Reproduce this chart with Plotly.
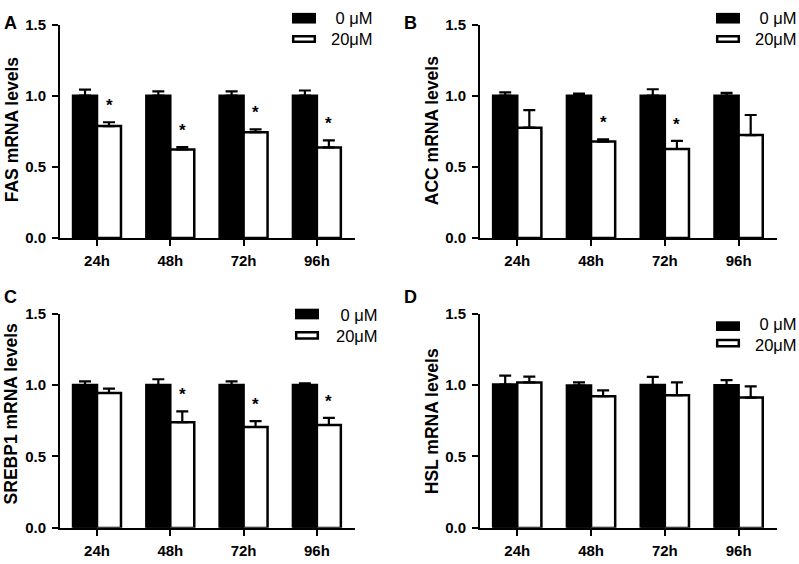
import plotly.graph_objects as go

W, H = 799, 564
FONT = "Liberation Sans, Arial, sans-serif"

categories = ["24h", "48h", "72h", "96h"]
y_ticks = [0.0, 0.5, 1.0, 1.5]
legend_labels = ["0 μM", "20μM"]

# Panel A: FAS
fas_ctrl = [1.00, 1.00, 1.00, 1.00]
fas_ctrl_err = [0.043, 0.030, 0.030, 0.036]
fas_treat = [0.786, 0.622, 0.743, 0.636]
fas_treat_err = [0.027, 0.017, 0.020, 0.050]
fas_sig = [True, True, True, True]

# Panel B: ACC
acc_ctrl = [1.00, 1.00, 1.00, 1.00]
acc_ctrl_err = [0.023, 0.015, 0.045, 0.020]
acc_treat = [0.775, 0.677, 0.625, 0.723]
acc_treat_err = [0.123, 0.016, 0.057, 0.141]
acc_sig = [False, True, True, False]

# Panel C: SREBP1
srebp_ctrl = [1.00, 1.00, 1.00, 1.00]
srebp_ctrl_err = [0.025, 0.040, 0.025, 0.012]
srebp_treat = [0.944, 0.740, 0.706, 0.720]
srebp_treat_err = [0.030, 0.075, 0.041, 0.050]
srebp_sig = [False, True, True, True]

# Panel D: HSL
hsl_ctrl = [1.003, 0.996, 1.000, 0.998]
hsl_ctrl_err = [0.062, 0.022, 0.057, 0.036]
hsl_treat = [1.018, 0.921, 0.928, 0.912]
hsl_treat_err = [0.041, 0.041, 0.090, 0.078]
hsl_sig = [False, False, False, False]

panels = [
    dict(letter="A", title="FAS mRNA levels", ctrl=fas_ctrl, ctrl_err=fas_ctrl_err,
         treat=fas_treat, treat_err=fas_treat_err, sig=fas_sig,
         x0=60, x1=355, y0=16, y1=236, title_x=12, title_y=124,
         letter_xy=(10, 14), leg=dict(rx=292, y_black=(4, 15), y_white=(27, 35),
                                      tx=329, ty=20.5)),
    dict(letter="B", title="ACC mRNA levels", ctrl=acc_ctrl, ctrl_err=acc_ctrl_err,
         treat=acc_treat, treat_err=acc_treat_err, sig=acc_sig,
         x0=480, x1=777, y0=16, y1=236, title_x=432, title_y=126,
         letter_xy=(410, 14), leg=dict(rx=716, y_black=(4, 15), y_white=(27, 35),
                                       tx=753, ty=20.5)),
    dict(letter="C", title="SREBP1 mRNA levels", ctrl=srebp_ctrl, ctrl_err=srebp_ctrl_err,
         treat=srebp_treat, treat_err=srebp_treat_err, sig=srebp_sig,
         x0=60, x1=355, y0=314, y1=535, title_x=11, title_y=418,
         letter_xy=(10, 297), leg=dict(rx=295, y_black=(309, 320), y_white=(332, 341),
                                       tx=334, ty=326)),
    dict(letter="D", title="HSL mRNA levels", ctrl=hsl_ctrl, ctrl_err=hsl_ctrl_err,
         treat=hsl_treat, treat_err=hsl_treat_err, sig=hsl_sig,
         x0=480, x1=777, y0=314, y1=535, title_x=432, title_y=425,
         letter_xy=(410, 297), leg=dict(rx=716, y_black=(322, 332), y_white=(340, 349),
                                        tx=753, ty=336)),
]

BW = 0.327
xpos = list(range(len(categories)))


def px(x):
    return x / W


def py(y):
    return 1 - y / H


fig = go.Figure()
annotations = []
shapes = []

for i, p in enumerate(panels):
    n = "" if i == 0 else str(i + 1)
    xa, ya = "x" + n, "y" + n
    fig.add_trace(go.Bar(
        x=xpos, y=p["ctrl"], width=BW, offset=-BW,
        marker=dict(color="black", line=dict(color="black", width=2.5)),
        error_y=dict(type="data", array=p["ctrl_err"], arrayminus=[0] * 4, symmetric=False,
                     color="black", thickness=2.2, width=6),
        xaxis=xa, yaxis=ya, showlegend=False))
    fig.add_trace(go.Bar(
        x=xpos, y=p["treat"], width=BW, offset=0,
        marker=dict(color="white", line=dict(color="black", width=2.5)),
        error_y=dict(type="data", array=p["treat_err"], arrayminus=[0] * 4, symmetric=False,
                     color="black", thickness=2.2, width=6),
        xaxis=xa, yaxis=ya, showlegend=False))

    axis_common = dict(showline=True, linewidth=2, linecolor="black", ticks="outside",
                       ticklen=6, tickwidth=2, tickcolor="black", showgrid=False, zeroline=False,
                       tickfont=dict(family=FONT, size=15, color="black", weight="bold"))
    fig.update_layout(**{
        "xaxis" + n: dict(domain=[px(p["x0"]), px(p["x1"])], range=[-0.505, 3.52],
                          tickvals=xpos, ticktext=categories, anchor=ya, fixedrange=True,
                          ticklabelstandoff=2, **axis_common),
        "yaxis" + n: dict(domain=[py(p["y1"]), py(p["y0"])], range=[0, 1.5],
                          tickvals=y_ticks, tickformat=".1f", anchor=xa, fixedrange=True,
                          ticklabelstandoff=3, **axis_common),
    })

    # significance stars
    for k, s in enumerate(p["sig"]):
        if s:
            annotations.append(dict(
                x=xpos[k] + BW / 2, y=p["treat"][k] + p["treat_err"][k], xref=xa, yref=ya,
                text="*", showarrow=False, yanchor="bottom", yshift=5,
                font=dict(family=FONT, size=17, color="black", weight="bold")))

    # y title
    annotations.append(dict(x=px(p["title_x"]), y=py(p["title_y"]), xref="paper", yref="paper",
                            text=p["title"], textangle=-90, showarrow=False,
                            xanchor="center", yanchor="middle",
                            font=dict(family=FONT, size=17.5, color="black", weight="bold")))
    # panel letter
    lx, ly = p["letter_xy"]
    annotations.append(dict(x=px(lx), y=py(ly), xref="paper", yref="paper", text=p["letter"],
                            showarrow=False, xanchor="center", yanchor="middle",
                            font=dict(family=FONT, size=18, color="black", weight="bold")))
    # legend
    lg = p["leg"]
    shapes.append(dict(type="rect", xref="paper", yref="paper",
                       x0=px(lg["rx"]), x1=px(lg["rx"] + 24),
                       y0=py(lg["y_black"][1]), y1=py(lg["y_black"][0]),
                       fillcolor="black", line=dict(color="black", width=0)))
    shapes.append(dict(type="rect", xref="paper", yref="paper",
                       x0=px(lg["rx"] + 1.2), x1=px(lg["rx"] + 22.8),
                       y0=py(lg["y_white"][1] - 1.2), y1=py(lg["y_white"][0] + 1.2),
                       fillcolor="white", line=dict(color="black", width=2.5)))
    legend_text = "\u00a0" + legend_labels[0] + "<br>" + legend_labels[1]
    annotations.append(dict(x=px(lg["tx"]), y=py(lg["ty"]), xref="paper", yref="paper",
                            text=legend_text, showarrow=False, xanchor="left", yanchor="middle",
                            align="left",
                            font=dict(family=FONT, size=16.5, color="black")))

fig.update_layout(
    width=W, height=H, margin=dict(l=0, r=0, t=0, b=0), autosize=False,
    paper_bgcolor="white", plot_bgcolor="white", barmode="overlay",
    annotations=annotations, shapes=shapes, showlegend=False,
    font=dict(family=FONT, color="black"),
)

fig.write_html(
    "out.html",
    config={"displayModeBar": False, "responsive": False, "staticPlot": True},
    default_width="799px", default_height="564px",
    post_script="document.body.style.margin='0';document.body.style.overflow='hidden';",
)
